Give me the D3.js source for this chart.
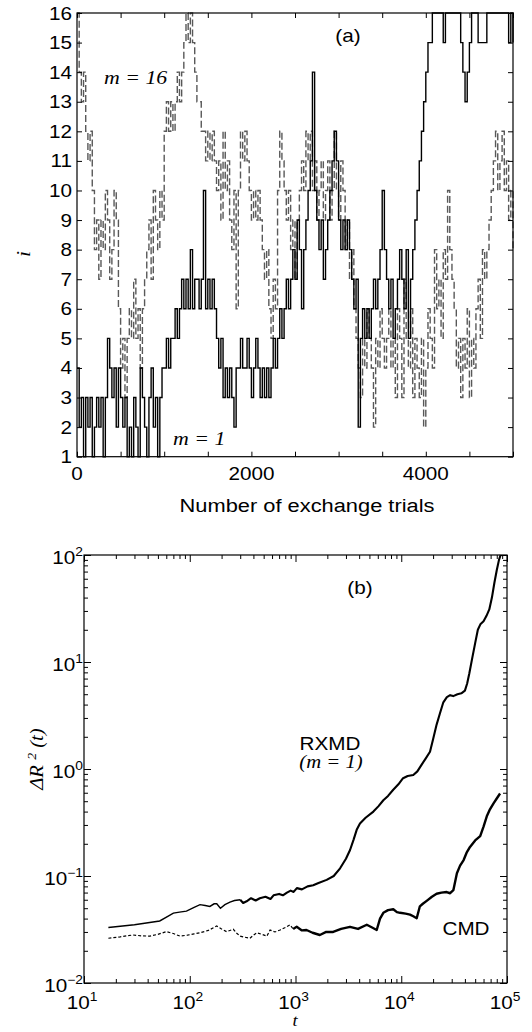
<!DOCTYPE html>
<html>
<head>
<meta charset="utf-8">
<script src="https://cdn.jsdelivr.net/npm/d3@7"></script>
<style>
    body { margin: 0; background: #fff; }
    svg text { font-family: "Liberation Sans", Arial, sans-serif; fill: #000; }
    svg text.it { font-family: "Liberation Serif", "Times New Roman", serif; font-style: italic; }
</style>
</head>
<body>
<div id="chart"></div>
<script>
// ---- panel (a): replica index i, read every 25 exchange trials ----
const trialStep = 25;
const replicaM1 = [
    4, 2, 3, 1, 3, 2, 3, 1, 2, 3,
    2, 3, 1, 3, 5, 4, 3, 4, 2, 4,
    3, 2, 3, 1, 2, 1, 3, 2, 1, 4,
    3, 2, 1, 3, 4, 2, 3, 1, 3, 4,
    4, 5, 4, 5, 5, 6, 5, 6, 7, 6,
    7, 6, 8, 6, 7, 7, 6, 7, 10, 6,
    7, 6, 7, 6, 5, 4, 5, 3, 4, 3,
    4, 3, 2, 4, 4, 5, 4, 4, 5, 4,
    3, 4, 5, 4, 3, 4, 3, 4, 3, 4,
    5, 4, 5, 6, 5, 6, 7, 6, 7, 8,
    7, 9, 8, 6, 8, 9, 10, 11, 14, 10,
    9, 8, 9, 7, 8, 9, 10, 11, 12, 11,
    9, 8, 9, 8, 9, 8, 7, 6, 7, 2,
    5, 6, 5, 6, 5, 6, 7, 6, 7, 8,
    10, 8, 7, 6, 7, 5, 6, 7, 8, 7,
    6, 8, 5, 7, 8, 9, 10, 11, 12, 13,
    14, 15, 15, 16, 16, 16, 16, 16, 15, 16,
    16, 16, 16, 16, 16, 16, 15, 14, 13, 14,
    15, 16, 16, 16, 15, 15, 15, 15, 16, 16,
    16, 16, 16, 16, 16, 16, 16, 16, 15, 16,
    15
];
const replicaM16 = [
    16, 14, 13, 14, 12, 11, 12, 10, 8, 9,
    7, 9, 8, 10, 9, 7, 8, 10, 9, 6,
    4, 5, 3, 5, 6, 5, 7, 5, 6, 4,
    6, 7, 8, 9, 7, 10, 9, 8, 10, 9,
    12, 13, 12, 13, 12, 13, 14, 13, 14, 15,
    16, 15, 16, 15, 14, 13, 13, 12, 12, 11,
    12, 11, 12, 11, 10, 11, 9, 12, 10, 11,
    9, 8, 10, 6, 10, 12, 11, 12, 11, 10,
    9, 10, 9, 10, 9, 8, 7, 8, 6, 5,
    7, 6, 10, 12, 11, 10, 9, 10, 8, 9,
    7, 9, 10, 11, 10, 12, 11, 12, 10, 11,
    9, 10, 11, 9, 10, 11, 9, 10, 12, 10,
    9, 11, 10, 8, 9, 7, 8, 6, 5, 4,
    3, 5, 4, 6, 5, 4, 2, 5, 4, 6,
    5, 4, 5, 6, 4, 5, 3, 6, 5, 3,
    7, 5, 4, 6, 3, 5, 4, 3, 5, 2,
    4, 6, 5, 4, 8, 6, 7, 5, 8, 7,
    10, 8, 7, 6, 4, 5, 3, 5, 4, 6,
    3, 5, 4, 6, 7, 5, 8, 7, 8, 9,
    10, 11, 12, 10, 11, 12, 10, 11, 9, 10,
    8
];
const trialLabels = [0, 2000, 4000];
const indexLabels = [1, 2, 3, 4, 5, 6, 7, 8, 9, 10, 11, 12, 13, 14, 15, 16];

// ---- panel (b): mean square displacement vs t ----
const rxmdT = [17, 30, 52, 62, 70, 80, 93, 110, 125, 140, 155, 170, 180, 195, 215, 240, 265, 300, 320, 345,
    380, 420, 460, 520, 580, 620, 700, 760, 830, 900, 960, 1030, 1150, 1300, 1470, 1650, 1970, 2300, 2640, 3000,
    3280, 3550, 3790, 4070, 4600, 5450, 6100, 6770, 7500, 8400, 9400, 10400, 11500, 13000, 14200, 15600, 17000, 18700, 20000, 21600,
    23200, 25000, 27000, 29000, 31000, 34000, 37000, 40000, 42000, 44000, 47000, 50000, 53000, 56000, 60000, 64000, 68000, 72000, 76000, 80000,
    84000, 87000];
const rxmdR2 = [0.033, 0.035, 0.038, 0.042, 0.045, 0.046, 0.047, 0.051, 0.054, 0.053, 0.052, 0.055, 0.055, 0.050, 0.054, 0.057, 0.059, 0.060, 0.056, 0.058,
    0.062, 0.059, 0.062, 0.064, 0.061, 0.066, 0.068, 0.066, 0.070, 0.073, 0.071, 0.077, 0.075, 0.080, 0.082, 0.086, 0.092, 0.100, 0.118, 0.145,
    0.175, 0.22, 0.27, 0.31, 0.35, 0.40, 0.45, 0.51, 0.56, 0.64, 0.72, 0.82, 0.86, 0.88, 0.95, 1.10, 1.25, 1.45, 1.9, 2.6,
    3.3, 4.2, 4.7, 4.9, 4.8, 5.0, 5.1, 5.4, 6.3, 7.8, 11, 15, 20, 22.5, 24, 27, 31, 40, 55, 72,
    90, 100];
const cmdT = [17, 22, 29, 35, 42, 50, 60, 70, 81, 95, 110, 125, 150, 180, 200, 223, 258, 280, 300, 330,
    371, 400, 430, 480, 536, 575, 640, 714, 800, 887, 950, 1026, 1150, 1270, 1450, 1700, 1950, 2270, 2700, 3275,
    3900, 4720, 5300, 5860, 6300, 6770, 7500, 8410, 9100, 9760, 11000, 12100, 13000, 14000, 15000, 16000, 17400, 19500, 21600, 24000,
    26900, 29000, 31100, 33600, 36000, 38900, 41500, 44700, 50000, 55800, 60000, 64400, 69000, 74600, 80000, 86000];
const cmdR2 = [0.0262, 0.0270, 0.0281, 0.0276, 0.0274, 0.0285, 0.0302, 0.0290, 0.0274, 0.0280, 0.0288, 0.0295, 0.0310, 0.0341, 0.0320, 0.0302, 0.0318, 0.0290, 0.0274, 0.0268,
    0.0262, 0.0280, 0.0295, 0.0285, 0.0274, 0.0313, 0.0300, 0.0313, 0.0330, 0.0350, 0.0320, 0.0335, 0.0310, 0.0313, 0.0295, 0.0281, 0.0300, 0.0300, 0.0320, 0.0335,
    0.0320, 0.0350, 0.0330, 0.0313, 0.0400, 0.0453, 0.0480, 0.0489, 0.0460, 0.0453, 0.0445, 0.0436, 0.0420, 0.0403, 0.0521, 0.0550, 0.0586, 0.0640, 0.0683, 0.0700,
    0.0708, 0.0690, 0.0736, 0.106, 0.125, 0.141, 0.165, 0.187, 0.215, 0.236, 0.29, 0.361, 0.42, 0.478, 0.53, 0.59];
const cmdDashedUntil = 950;
const rxmdSmoothUntil = 300;
const tExponents = [1, 2, 3, 4, 5];
const r2Exponents = [-2, -1, 0, 1, 2];

const svg = d3.select("#chart")
    .append("svg")
    .attr("width", 532)
    .attr("height", 1032);

// the figure is a bit wider than it is tall, so text is stretched sideways
const stretch = 1.15;

function addText(x, y, str, anchor, cls, size, rotate) {
    const rot = rotate ? ` rotate(${rotate})` : "";
    return svg.append("text")
        .attr("transform", `translate(${x},${y})${rot} scale(${stretch},1)`)
        .attr("text-anchor", anchor)
        .attr("class", cls || null)
        .attr("font-size", size)
        .text(str);
}

function powLabel(x, y, exp, anchor) {
    const t = svg.append("text")
        .attr("transform", `translate(${x},${y}) scale(${stretch},1)`)
        .attr("text-anchor", anchor)
        .attr("font-size", 18);
    t.append("tspan").text("10");
    t.append("tspan").attr("dy", -8).attr("font-size", 12).text(exp < 0 ? "\u2212" + (-exp) : exp);
}

function frame(x0, x1, y0, y1, w) {
    svg.append("rect")
        .attr("x", x0).attr("y", y0)
        .attr("width", x1 - x0).attr("height", y1 - y0)
        .attr("fill", "none").attr("stroke", "#000").attr("stroke-width", w);
}

function ticks(axis, transform) {
    const g = svg.append("g").attr("transform", transform).call(axis);
    g.select(".domain").remove();
    g.selectAll("line").attr("stroke", "#000").attr("stroke-width", 1);
    g.selectAll("text").remove();
}

// ================= panel (a) =================
const xA = d3.scaleLinear().domain([0, 5000]).range([77, 513]);
const yA = d3.scaleLinear().domain([1, 16]).range([456.7, 13]);

const stepLine = d3.line()
    .x(d => xA(d[0]))
    .y(d => yA(d[1]))
    .curve(d3.curveStepAfter);

svg.append("path")
    .datum(replicaM16.map((v, k) => [k * trialStep, v]))
    .attr("d", stepLine)
    .attr("fill", "none")
    .attr("stroke", "#585858")
    .attr("stroke-width", 1.4)
    .attr("stroke-dasharray", "7,3");

svg.append("path")
    .datum(replicaM1.map((v, k) => [k * trialStep, v]))
    .attr("d", stepLine)
    .attr("fill", "none")
    .attr("stroke", "#000")
    .attr("stroke-width", 1.4);

ticks(d3.axisBottom(xA).ticks(10).tickSize(-5).tickSizeOuter(0), `translate(0,${yA(1)})`);
ticks(d3.axisTop(xA).ticks(10).tickSize(-5).tickSizeOuter(0), `translate(0,${yA(16)})`);
ticks(d3.axisLeft(yA).tickValues(indexLabels).tickSize(-5).tickSizeOuter(0), `translate(${xA(0)},0)`);
ticks(d3.axisRight(yA).tickValues(indexLabels).tickSize(-5).tickSizeOuter(0), `translate(${xA(5000)},0)`);
frame(xA(0), xA(5000), yA(16), yA(1), 1.2);

indexLabels.forEach(v => addText(72, yA(v) + 6.5, v, "end", null, 18));
trialLabels.forEach(v => addText(xA(v), 480, v, "middle", null, 18));
addText(307, 512, "Number of exchange trials", "middle", null, 19);
addText(30, 254, "i", "middle", "it", 19, -90);
addText(348, 42, "(a)", "middle", null, 18);
addText(104, 84, "m = 16", "start", "it", 19);
addText(173, 445, "m = 1", "start", "it", 19);

// ================= panel (b) =================
const xB = d3.scaleLog().domain([10, 1e5]).range([84, 507]);
const yB = d3.scaleLog().domain([1e-2, 1e2]).range([983, 555]);

const msdLine = d3.line()
    .x(d => xB(d[0]))
    .y(d => yB(d[1]));

const rxmd = rxmdT.map((t, k) => [t, rxmdR2[k]]);
const cmd = cmdT.map((t, k) => [t, cmdR2[k]]);

// early parts are smooth, later parts are noisy and look thicker
svg.append("path")
    .datum(rxmd.filter(d => d[0] <= rxmdSmoothUntil))
    .attr("d", msdLine)
    .attr("fill", "none")
    .attr("stroke", "#000")
    .attr("stroke-width", 1.4);

svg.append("path")
    .datum(rxmd.filter(d => d[0] >= rxmdSmoothUntil))
    .attr("d", msdLine)
    .attr("fill", "none")
    .attr("stroke", "#000")
    .attr("stroke-width", 2.1)
    .attr("stroke-linejoin", "round");

svg.append("path")
    .datum(cmd.filter(d => d[0] <= cmdDashedUntil))
    .attr("d", msdLine)
    .attr("fill", "none")
    .attr("stroke", "#000")
    .attr("stroke-width", 1.2)
    .attr("stroke-dasharray", "3,2");

svg.append("path")
    .datum(cmd.filter(d => d[0] >= cmdDashedUntil))
    .attr("d", msdLine)
    .attr("fill", "none")
    .attr("stroke", "#000")
    .attr("stroke-width", 2.4)
    .attr("stroke-linejoin", "round");

const isMajor = v => Math.abs(Math.log10(v) - Math.round(Math.log10(v))) < 1e-6;
const xMinor = xB.ticks().filter(v => !isMajor(v));
const xMajor = xB.ticks().filter(isMajor);
const yMinor = yB.ticks().filter(v => !isMajor(v));
const yMajor = yB.ticks().filter(isMajor);

ticks(d3.axisBottom(xB).tickValues(xMajor).tickSize(-7).tickSizeOuter(0), `translate(0,983)`);
ticks(d3.axisBottom(xB).tickValues(xMinor).tickSize(-4).tickSizeOuter(0), `translate(0,983)`);
ticks(d3.axisTop(xB).tickValues(xMajor).tickSize(-7).tickSizeOuter(0), `translate(0,555)`);
ticks(d3.axisTop(xB).tickValues(xMinor).tickSize(-4).tickSizeOuter(0), `translate(0,555)`);
ticks(d3.axisLeft(yB).tickValues(yMajor).tickSize(-7).tickSizeOuter(0), `translate(84,0)`);
ticks(d3.axisLeft(yB).tickValues(yMinor).tickSize(-4).tickSizeOuter(0), `translate(84,0)`);
ticks(d3.axisRight(yB).tickValues(yMajor).tickSize(-7).tickSizeOuter(0), `translate(507,0)`);
ticks(d3.axisRight(yB).tickValues(yMinor).tickSize(-4).tickSizeOuter(0), `translate(507,0)`);
frame(84, 507, 555, 983, 1.2);

r2Exponents.forEach(e => powLabel(83, yB(Math.pow(10, e)) + 9, e, "end"));
tExponents.forEach(e => powLabel(xB(Math.pow(10, e)) - 2, 1009, e, "middle"));

addText(295, 1026, "t", "middle", "it", 16);
const yl = svg.append("text")
    .attr("transform", `translate(43,759) rotate(-90) scale(${stretch},1)`)
    .attr("text-anchor", "middle")
    .attr("class", "it")
    .attr("font-size", 18);
yl.append("tspan").text("\u0394R ");
yl.append("tspan").attr("dy", -7).attr("font-size", 12).text("2");
yl.append("tspan").attr("dy", 7).text(" (t)");

addText(360, 594, "(b)", "middle", null, 18);
addText(330, 750, "RXMD", "middle", null, 18);
addText(331, 768, "(m = 1)", "middle", "it", 18);
addText(466, 935, "CMD", "middle", null, 18);
</script>
</body>
</html>
